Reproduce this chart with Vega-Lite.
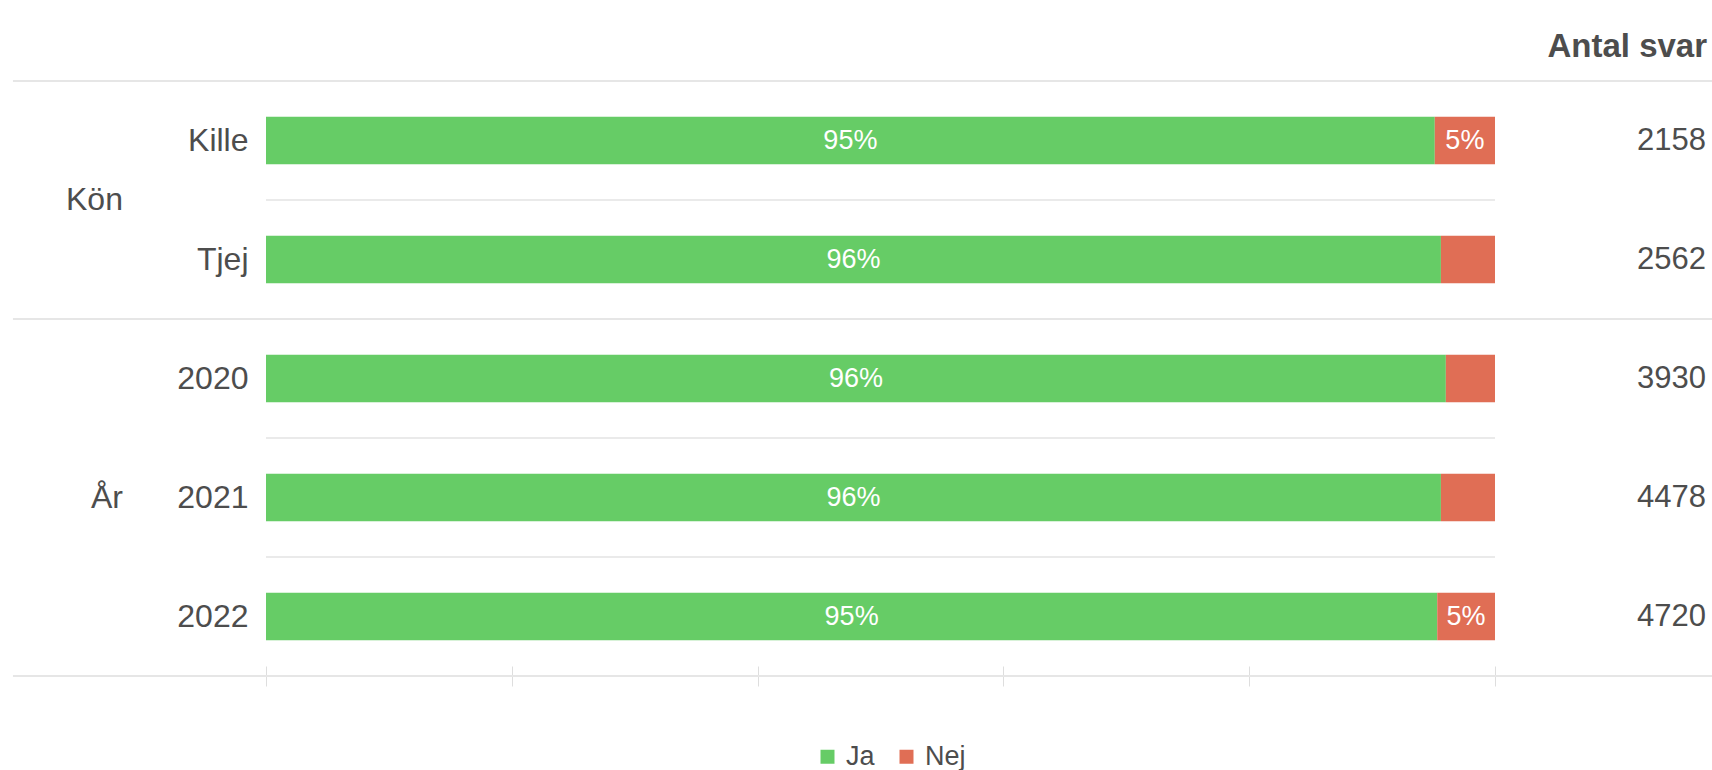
{
  "$schema": "https://vega.github.io/schema/vega-lite/v6.json",
  "width": 1229,
  "height": 595,
  "autosize": {"type": "none"},
  "padding": {"left": 266, "top": 81, "right": 217, "bottom": 94},
  "background": "white",
  "config": {"view": {"stroke": null}, "font": "Liberation Sans"},
  "title": {"text": "Antal svar", "anchor": "end", "frame": "bounds", "orient": "top", "fontSize": 33, "fontWeight": "bold", "color": "#4d4d4d", "font": "Liberation Sans", "baseline": "alphabetic", "offset": -10, "dx": -6},
  "data": {"values": [
    {"group": "Kön", "row": "Kille", "svar": "Ja", "pct": 0.951, "n": 2158},
    {"group": "Kön", "row": "Kille", "svar": "Nej", "pct": 0.049, "n": 2158},
    {"group": "Kön", "row": "Tjej", "svar": "Ja", "pct": 0.956, "n": 2562},
    {"group": "Kön", "row": "Tjej", "svar": "Nej", "pct": 0.044, "n": 2562},
    {"group": "År", "row": "2020", "svar": "Ja", "pct": 0.96, "n": 3930},
    {"group": "År", "row": "2020", "svar": "Nej", "pct": 0.04, "n": 3930},
    {"group": "År", "row": "2021", "svar": "Ja", "pct": 0.956, "n": 4478},
    {"group": "År", "row": "2021", "svar": "Nej", "pct": 0.044, "n": 4478},
    {"group": "År", "row": "2022", "svar": "Ja", "pct": 0.953, "n": 4720},
    {"group": "År", "row": "2022", "svar": "Nej", "pct": 0.047, "n": 4720}
  ]},
  "layer": [
    {
      "layer": [
        {
          "transform": [
            {"filter": "datum.svar == 'Ja'"},
            {"window": [{"op": "row_number", "as": "rn"}], "groupby": ["group"]},
            {"filter": "datum.rn > 1"}
          ],
          "mark": {"type": "rule", "color": "#e3e3e3", "strokeWidth": 1.5},
          "encoding": {
            "y": {"field": "row", "type": "nominal", "bandPosition": -0.75, "scale": {"domain": ["Kille", "Tjej", "2020", "2021", "2022"], "paddingInner": 0.6, "paddingOuter": 0.3}}
          }
        },
        {
          "mark": {"type": "bar"},
          "encoding": {
            "y": {"field": "row", "type": "nominal",
              "scale": {"domain": ["Kille", "Tjej", "2020", "2021", "2022"], "paddingInner": 0.6, "paddingOuter": 0.3},
              "axis": {"title": null, "domain": false, "ticks": false, "grid": false, "labelFontSize": 32, "labelColor": "#4d4d4d", "labelPadding": 18, "labelFont": "Liberation Sans"}},
            "x": {"field": "pct", "type": "quantitative", "stack": "zero",
              "scale": {"domain": [0, 1], "nice": false},
              "axis": {"title": null, "labels": false, "domain": false, "grid": false, "tickSize": 20, "offset": -10, "tickColor": "#dedede", "values": [0, 0.2, 0.4, 0.6, 0.8, 1]}},
            "color": {"field": "svar", "type": "nominal",
              "scale": {"domain": ["Ja", "Nej"], "range": ["#66CC66", "#E06E55"]},
              "legend": {"orient": "none", "legendX": 548, "legendY": 662, "direction": "horizontal", "title": null, "labelFontSize": 27, "labelColor": "#4d4d4d", "labelFont": "Liberation Sans", "symbolType": "square", "symbolSize": 196, "symbolStrokeWidth": 0, "labelOffset": 5, "columnPadding": 18}},
            "order": {"field": "svar", "sort": "ascending"}
          }
        },
        {
          "transform": [
            {"filter": "datum.svar == 'Ja'"},
            {"window": [{"op": "row_number", "as": "rn"}], "groupby": ["group"]},
            {"filter": "datum.rn == 1"}
          ],
          "mark": {"type": "rule", "color": "#e6e6e6", "strokeWidth": 2},
          "encoding": {
            "y": {"field": "row", "type": "nominal", "bandPosition": -0.75, "scale": {"domain": ["Kille", "Tjej", "2020", "2021", "2022"], "paddingInner": 0.6, "paddingOuter": 0.3}},
            "x": {"datum": -0.2059, "type": "quantitative", "scale": {"domain": [0, 1], "nice": false}},
            "x2": {"datum": 1.1766}
          }
        },
        {
          "transform": [
            {"filter": "datum.svar == 'Ja'"},
            {"window": [{"op": "row_number", "as": "rn"}]},
            {"joinaggregate": [{"op": "count", "as": "tot"}]},
            {"filter": "datum.rn == datum.tot"}
          ],
          "mark": {"type": "rule", "color": "#e6e6e6", "strokeWidth": 2},
          "encoding": {
            "y": {"field": "row", "type": "nominal", "bandPosition": 1.75, "scale": {"domain": ["Kille", "Tjej", "2020", "2021", "2022"], "paddingInner": 0.6, "paddingOuter": 0.3}},
            "x": {"datum": -0.2059, "type": "quantitative", "scale": {"domain": [0, 1], "nice": false}},
            "x2": {"datum": 1.1766}
          }
        },
        {
          "mark": {"type": "text", "color": "white", "fontSize": 27, "font": "Liberation Sans", "baseline": "middle", "align": "center"},
          "encoding": {
            "y": {"field": "row", "type": "nominal", "scale": {"domain": ["Kille", "Tjej", "2020", "2021", "2022"], "paddingInner": 0.6, "paddingOuter": 0.3}},
            "x": {"field": "pct", "type": "quantitative", "stack": "zero", "bandPosition": 0.5, "scale": {"domain": [0, 1], "nice": false}},
            "detail": {"field": "svar"},
            "order": {"field": "svar", "sort": "ascending"},
            "text": {"condition": {"test": "datum.pct < 0.045", "value": ""}, "field": "pct", "type": "quantitative", "format": ".0%"}
          }
        },
        {
          "transform": [{"filter": "datum.svar == 'Ja'"}],
          "mark": {"type": "text", "align": "right", "baseline": "middle", "fontSize": 31, "color": "#4d4d4d", "font": "Liberation Sans"},
          "encoding": {
            "y": {"field": "row", "type": "nominal", "scale": {"domain": ["Kille", "Tjej", "2020", "2021", "2022"], "paddingInner": 0.6, "paddingOuter": 0.3}},
            "x": {"datum": 1.1717, "type": "quantitative", "scale": {"domain": [0, 1], "nice": false}},
            "text": {"field": "n", "type": "quantitative"}
          }
        }
      ]
    },
    {
      "transform": [
        {"filter": "datum.svar == 'Ja'"},
        {"window": [{"op": "row_number", "as": "idx"}]},
        {"aggregate": [{"op": "mean", "field": "idx", "as": "mid"}], "groupby": ["group"]}
      ],
      "mark": {"type": "text", "align": "right", "baseline": "middle", "fontSize": 32, "color": "#4d4d4d", "font": "Liberation Sans"},
      "encoding": {
        "y": {"field": "mid", "type": "quantitative", "scale": {"domain": [0.5, 5.5], "reverse": true, "nice": false, "zero": false}, "axis": null},
        "x": {"datum": -0.1164, "type": "quantitative", "scale": {"domain": [0, 1], "nice": false}},
        "text": {"field": "group"}
      }
    }
  ],
  "resolve": {"scale": {"y": "independent"}}
}
